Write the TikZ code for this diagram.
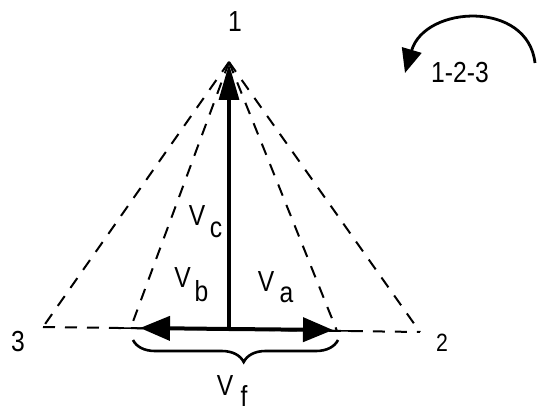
\documentclass[tikz,border=0pt]{standalone}
\usepackage{fontspec}
\setmainfont{Liberation Sans}
\newfontfamily\lab{Liberation Sans}[FakeStretch=0.85]
\usetikzlibrary{arrows.meta,decorations.pathreplacing}
\begin{document}
\begin{tikzpicture}[x=1pt,y=-1pt,
  dline/.style={line width=2pt, dash pattern=on 12pt off 10pt},
  lbl/.style={font=\lab\fontsize{29}{32}\selectfont, inner sep=0pt},
  sml/.style={font=\lab\fontsize{25}{28}\selectfont, inner sep=0pt},
  ]
\useasboundingbox (0,0) rectangle (542,412);
% points
\coordinate (A) at (229,62);
\coordinate (L) at (43,327);
\coordinate (R) at (420,332);
\coordinate (Li) at (131,327);
\coordinate (Ri) at (337,331);
\coordinate (Ls) at (120,328);
\coordinate (Rs) at (352,331);
\coordinate (O) at (229,329);
\coordinate (Lt) at (140,328);
\coordinate (Rt) at (333,330);
\coordinate (At) at (229,64);
% dashed triangle lines
\draw[dline] (A) -- (L);
\draw[dline] (A) -- (R);
\draw[dline] (A) -- (Li);
\draw[dline] (A) -- (Ri);
\draw[dline] (L) -- (R);
\draw[line width=1.6pt] (Ls) -- (Rs);
% vectors
\draw[line width=3.2pt, -{Triangle[length=36pt,width=20pt]}] (O) -- (At);
\draw[line width=4pt, -{Triangle[length=30pt,width=24pt]}] (O) -- (Lt);
\draw[line width=4pt, -{Triangle[length=30pt,width=24pt]}] (O) -- (Rt);
% brace
\coordinate (Bl) at (133,340);
\coordinate (Br) at (338,340);
\draw[line width=2.6pt, decorate, decoration={brace, amplitude=22pt, aspect=0.46}] (Br) -- (Bl);
% labels
\node[lbl] (one) at (235,22) {1};
\node[lbl] (three) at (18,342) {3};
\node[sml] (two) at (442,343) {2};
\node[lbl] (vc) at (197,216) {V};
\node[lbl] (vcs) at (216,229.5) {c};
\node[lbl] (vb) at (182.5,278) {V};
\node[lbl] (vbs) at (201.5,291) {b};
\node[lbl] (va) at (266,282) {V};
\node[lbl] (vas) at (286.5,294.5) {a};
\node[lbl] (vf) at (225,386) {V};
\node[lbl] (vfs) at (244,396) {f};
% rotation sense
\coordinate (S) at (535,63);
\coordinate (E) at (405,73);
\draw[line width=2.8pt, -{Triangle[length=24pt,width=20pt]}] (S) .. controls (528,0) and (425,5) .. (E);
\node[lbl] (seq) at (460,73) {1-2-3};
\end{tikzpicture}
\end{document}
